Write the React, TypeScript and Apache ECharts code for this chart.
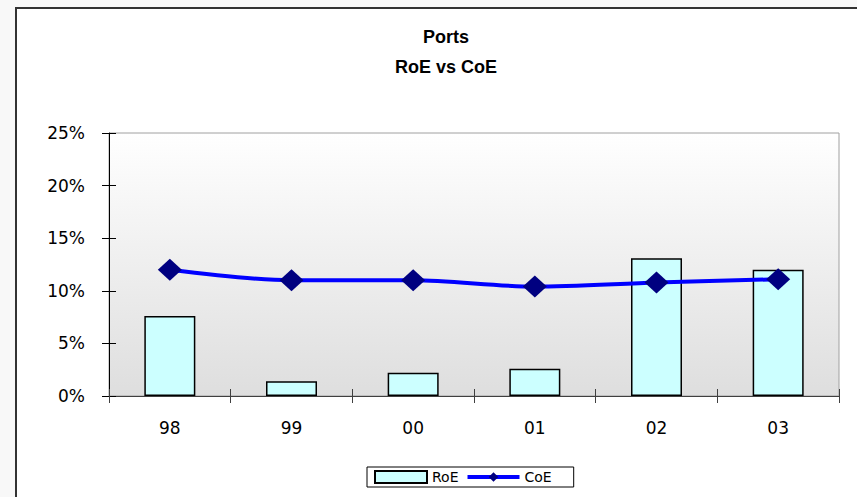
import React, { useEffect, useRef } from "react";
import * as echarts from "echarts";

const categories = ["98", "99", "00", "01", "02", "03"];
const roe = [7.6, 1.4, 2.2, 2.6, 13.1, 12.0];
const coe = [12.0, 11.0, 11.0, 10.4, 10.8, 11.1];
const yTicks = [0, 5, 10, 15, 20, 25];

export default function App() {
  const ref = useRef<HTMLDivElement>(null);
  useEffect(() => {
    if (!ref.current) return;
    const chart = echarts.init(ref.current, null, { renderer: "svg" });
    const font = "'Liberation Sans', Arial, sans-serif";
    const wide = "'DejaVu Sans', sans-serif";
    chart.setOption({
      animation: false,
      backgroundColor: "#f8f8f8",
      graphic: [
        {
          type: "rect",
          z: -10,
          shape: { x: 16, y: 8, width: 900, height: 600 },
          style: { fill: "#ffffff", stroke: "#333333", lineWidth: 2 },
        },
        {
          type: "text",
          x: 446,
          y: 37,
          style: {
            text: "Ports",
            font: `bold 18px ${font}`,
            fill: "#000",
            align: "center",
            verticalAlign: "middle",
          },
        },
        {
          type: "text",
          x: 446,
          y: 67,
          style: {
            text: "RoE vs CoE",
            font: `bold 18px ${font}`,
            fill: "#000",
            align: "center",
            verticalAlign: "middle",
          },
        },
      ],
      legend: {
        left: 367,
        top: 467,
        orient: "horizontal",
        borderColor: "#000",
        borderWidth: 1,
        padding: [3, 22, 3, 7],
        itemWidth: 52,
        itemHeight: 12,
        itemGap: 7,
        textStyle: { fontFamily: wide, fontSize: 14, color: "#000" },
        data: [
          { name: "RoE", icon: "rect" },
          { name: "CoE", lineStyle: { width: 4, color: "#0000ff" } },
        ],
      },
      grid: {
        left: 109,
        top: 133,
        right: 18,
        bottom: 101,
        show: true,
        borderColor: "#a0a0a0",
        borderWidth: 1,
        backgroundColor: new echarts.graphic.LinearGradient(0, 0, 0, 1, [
          { offset: 0, color: "#ffffff" },
          { offset: 1, color: "#dedede" },
        ]),
      },
      xAxis: [
        {
          type: "category",
          data: categories,
          axisLine: { lineStyle: { color: "#404040", width: 1 } },
          axisTick: { show: true, length: 7, lineStyle: { color: "#404040" } },
          axisLabel: { fontFamily: wide, fontSize: 17, color: "#000", margin: 23 },
        },
        {
          type: "category",
          data: categories,
          position: "bottom",
          axisLine: { show: false },
          axisTick: { show: true, inside: true, length: 7, lineStyle: { color: "#404040" } },
          axisLabel: { show: false },
        },
      ],
      yAxis: [
        {
          type: "value",
          min: 0,
          max: 25,
          interval: 5,
          axisLine: { show: true, lineStyle: { color: "#000", width: 1 } },
          axisTick: { show: true, length: 7, lineStyle: { color: "#000" } },
          splitLine: { show: false },
          axisLabel: {
            fontFamily: wide,
            fontSize: 17,
            color: "#000",
            margin: 24,
            formatter: (v: number) => (yTicks.includes(v) ? `${v}%` : ""),
          },
        },
        {
          type: "value",
          min: 0,
          max: 25,
          interval: 5,
          position: "left",
          axisLine: { show: false },
          axisTick: { show: true, inside: true, length: 7, lineStyle: { color: "#000" } },
          splitLine: { show: false },
          axisLabel: { show: false },
        },
      ],
      series: [
        {
          name: "RoE",
          type: "bar",
          data: roe,
          barWidth: 51,
          itemStyle: { color: "#ccffff", borderColor: "#000", borderWidth: 1.5 },
        },
        {
          name: "CoE",
          type: "line",
          data: coe,
          smooth: 0.3,
          lineStyle: { color: "#0000ff", width: 4 },
          itemStyle: { color: "#000080" },
          symbol: "diamond",
          symbolSize: [24, 22],
          showSymbol: true,
        },
      ],
    });
    return () => chart.dispose();
  }, []);
  return (
    <div
      ref={ref}
      style={{ position: "fixed", left: 0, top: 0, width: 857, height: 497 }}
    />
  );
}
